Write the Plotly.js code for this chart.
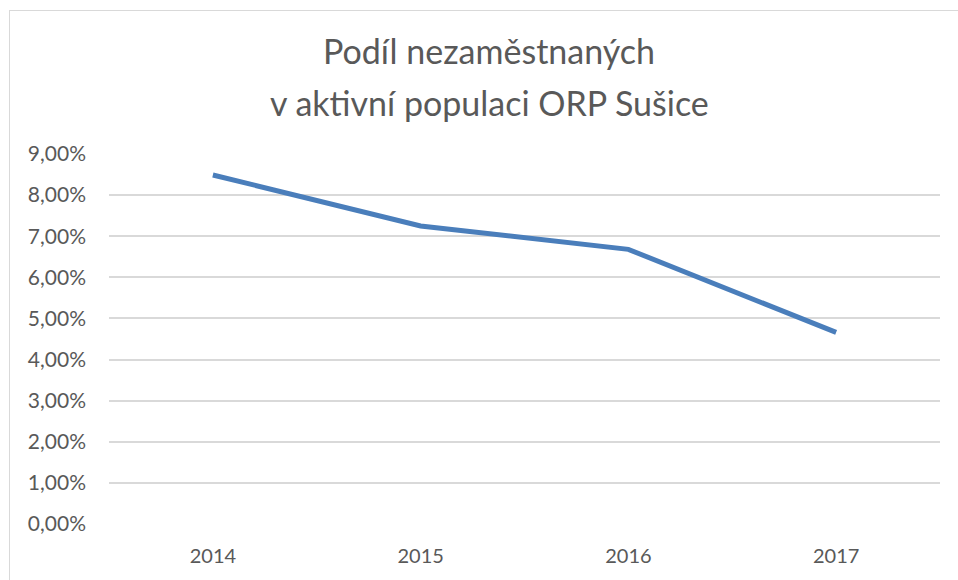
<!DOCTYPE html>
<html>
<head>
<meta charset="utf-8">
<script src="https://cdn.plot.ly/plotly-3.0.1.min.js"></script>
<style>
html,body{margin:0;padding:0;overflow:hidden;background:#fff;}
#frame{position:absolute;left:9px;top:10px;width:1200px;height:800px;border:1px solid #D9D9D9;box-sizing:border-box;}
#chart{position:absolute;left:0;top:0;width:958px;height:580px;}
</style>
</head>
<body>
<div id="frame"></div>
<div id="chart"></div>
<script>
const years = ['2014', '2015', '2016', '2017'];
const unemploymentShare = [8.49, 7.25, 6.68, 4.66];
const yTickVals = [0, 1, 2, 3, 4, 5, 6, 7, 8, 9];
const yTickText = ['0,00%', '1,00%', '2,00%', '3,00%', '4,00%', '5,00%', '6,00%', '7,00%', '8,00%', '9,00%'];
const titleLine1 = 'Podíl nezaměstnaných';
const titleLine2 = 'v aktivní populaci ORP Sušice';

const font = 'Lato, "Open Sans", sans-serif';
const titleX = (489 - 109) / 831;
const trace = {
  x: years,
  y: unemploymentShare,
  type: 'scatter',
  mode: 'lines',
  line: {color: '#4A7EBB', width: 5},
  hoverinfo: 'x+y'
};
const layout = {
  width: 958, height: 580,
  paper_bgcolor: 'rgba(0,0,0,0)',
  plot_bgcolor: 'rgba(0,0,0,0)',
  margin: {l: 109, r: 18, t: 154, b: 56},
  showlegend: false,
  font: {family: font, color: '#595959'},
  title: {
    text: titleLine1,
    font: {family: font, size: 34, color: '#595959'},
    x: titleX, xref: 'paper', xanchor: 'center',
    y: 1 - 52/580, yref: 'container', yanchor: 'middle'
  },
  annotations: [{
    text: titleLine2, showarrow: false,
    xref: 'paper', yref: 'paper', x: titleX, xanchor: 'center',
    y: (524 - 102) / 370, yanchor: 'middle',
    font: {family: font, size: 34, color: '#595959'}
  }],
  xaxis: {
    type: 'category',
    range: [-0.5, 3.5],
    showgrid: false, zeroline: false, showline: false,
    ticks: '', tickfont: {size: 20, color: '#595959', family: font},
    ticklabelstandoff: 18
  },
  yaxis: {
    range: [0, 9],
    tickvals: yTickVals, ticktext: yTickText,
    showgrid: true, gridcolor: '#D9D9D9', gridwidth: 2,
    zeroline: false, showline: false, ticks: '',
    tickfont: {size: 21, color: '#595959', family: font},
    ticklabelstandoff: 22
  }
};
Plotly.newPlot('chart', [trace], layout, {displayModeBar: false, staticPlot: true});
</script>
</body>
</html>
